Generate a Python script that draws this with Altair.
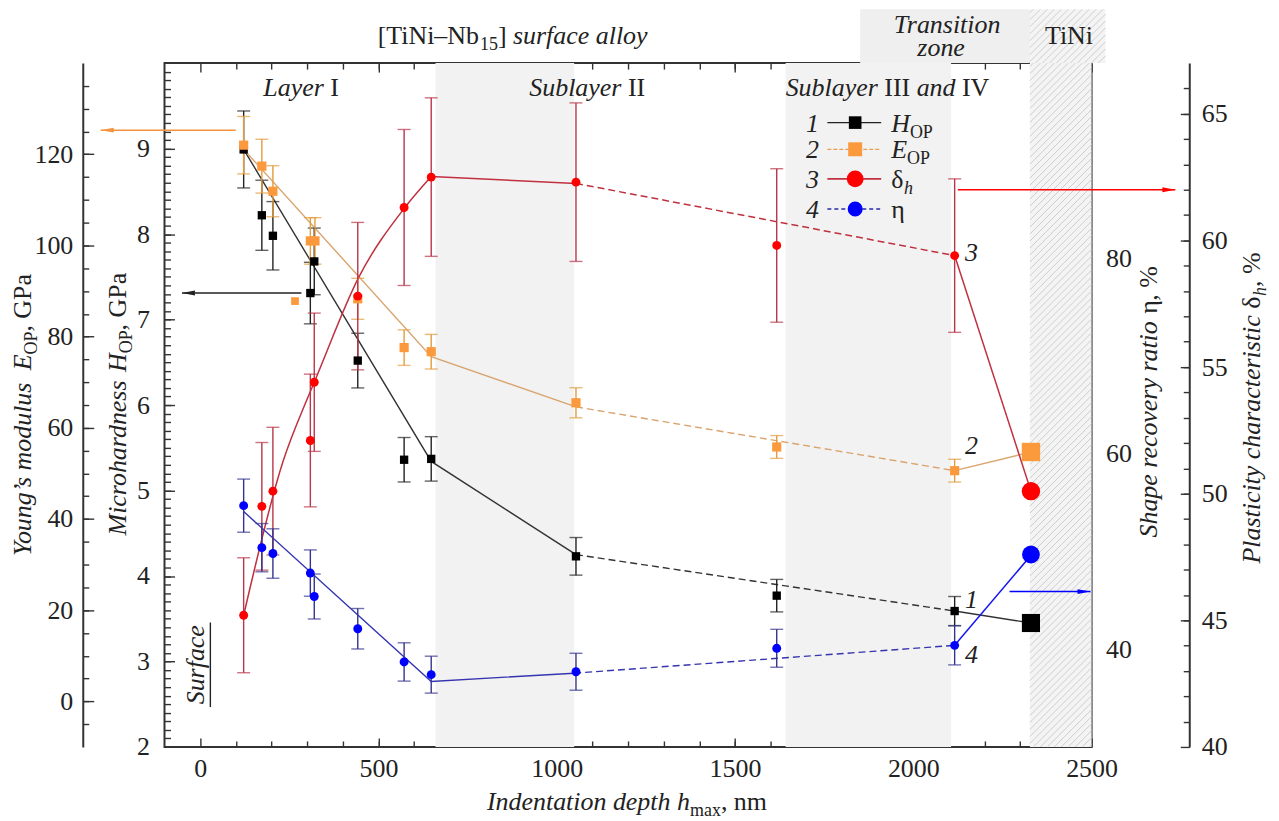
import altair as alt
import pandas as pd

# ---------------- measured values ----------------
DEPTH = [122, 173, 204, 309, 320, 442, 572, 648, 1054, 1617, 2116]
E_DEPTH = [122, 173, 204, 309, 322, 442, 572, 648, 1054, 1617, 2116]
H_OP = [8.99, 8.22, 7.98, 7.31, 7.68, 6.52, 5.36, 5.37, 4.23, 3.77, 3.59]
H_ERR = [0.45, 0.41, 0.40, 0.36, 0.39, 0.32, 0.26, 0.26, 0.22, 0.19, 0.17]
E_OP = [122.0, 117.4, 111.9, 101.0, 101.0, 88.3, 77.6, 76.7, 65.5, 55.8, 50.6]
E_ERR = [6.3, 5.9, 5.6, 5.1, 5.1, 4.5, 3.9, 3.8, 3.3, 2.5, 2.5]
E_EXTRA_X = [266]
E_EXTRA = [87.8]
DELTA_H = [45.2, 49.5, 50.1, 52.1, 54.4, 57.8, 61.3, 62.5, 62.3, 59.8, 59.4]
DELTA_ERR = [2.27, 2.52, 2.52, 2.62, 2.73, 2.91, 3.08, 3.13, 3.13, 3.03, 3.03]
ETA = [54.7, 50.4, 49.8, 47.8, 45.4, 42.1, 38.7, 37.4, 37.7, 40.1, 40.4]
ETA_ERR = [2.72, 2.47, 2.53, 2.37, 2.30, 2.07, 1.96, 1.89, 1.89, 1.94, 2.0]
TINI_X = [2330]
TINI_H = [3.45]
TINI_E = [54.7]
TINI_DELTA = [50.1]
TINI_ETA = [49.7]

# drawn trend curves (solid / dashed pieces)
H_FIT_X, H_FIT_Y = [122, 648, 1054], [8.99, 5.34, 4.25]
H_DASH_X, H_DASH_Y = [1054, 2116], [4.25, 3.59]
H_END_X, H_END_Y = [2116, 2330], [3.59, 3.45]
E_FIT_X, E_FIT_Y = [122, 648, 1054], [121.1, 75.6, 64.6]
E_DASH_X, E_DASH_Y = [1054, 2116], [64.6, 50.6]
E_END_X, E_END_Y = [2116, 2330], [50.6, 54.7]
D_FIT_X, D_FIT_Y = [122, 233, 299, 320, 445, 572, 648], [45.2, 51.3, 53.7, 54.4, 58.55, 61.26, 62.52]
D_SOLID_X, D_SOLID_Y = [648, 1054], [62.52, 62.25]
D_DASH_X, D_DASH_Y = [1054, 2116], [62.25, 59.4]
D_END_X, D_END_Y = [2116, 2330], [59.4, 50.1]
ETA_FIT_X, ETA_FIT_Y = [122, 648, 1049], [54.1, 36.7, 37.55]
ETA_DASH_X, ETA_DASH_Y = [1049, 2116], [37.55, 40.4]
ETA_END_X, ETA_END_Y = [2116, 2332], [40.4, 49.7]

# zones (indentation depth, nm)
GRAY_BANDS_X0 = [660, 1642]
GRAY_BANDS_X1 = [1049, 2106]
TINI_X0, TINI_HEAD_X1 = 2327, 2539
TRANSITION_X0 = 1851
HEAD_TOP_E = 151.8

X_TICKS = [0, 500, 1000, 1500, 2000, 2500]
E_TICKS = [0, 20, 40, 60, 80, 100, 120]
H_TICKS = [2, 3, 4, 5, 6, 7, 8, 9]
ETA_TICKS = [40, 60, 80]
D_TICKS = [40, 45, 50, 55, 60, 65]

# ---------------- geometry ----------------
W, HGT = 930, 686
X_DOM = [-100, 2500]
E_DOM = [-10, 140]
H_DOM = [2, 10]
ETA_DOM = [30, 100]
D_DOM = [40, 67]
PXN = W / (X_DOM[1] - X_DOM[0])
PXE = HGT / (E_DOM[1] - E_DOM[0])
FONT = 'Liberation Serif'
TXT = '#222222'


def xs(axis=None, field='x'):
    return alt.X(f'{field}:Q', scale=alt.Scale(domain=X_DOM, nice=False, zero=False), axis=axis)


def ys(dom, axis=None, field='y'):
    return alt.Y(f'{field}:Q', scale=alt.Scale(domain=dom, nice=False, zero=False), axis=axis)


layers = []

# ---- background zones ----
bands = pd.DataFrame({'x': GRAY_BANDS_X0, 'x2': GRAY_BANDS_X1, 'y': [E_DOM[0]] * 2, 'y2': [E_DOM[1]] * 2})
layers.append(alt.Chart(bands).mark_rect(color='#f2f2f2').encode(x=xs(), x2='x2:Q', y=ys(E_DOM), y2='y2:Q'))
head = pd.DataFrame({'x': [TRANSITION_X0], 'x2': [TINI_X0], 'y': [E_DOM[1]], 'y2': [HEAD_TOP_E]})
layers.append(alt.Chart(head).mark_rect(color='#efefef').encode(x=xs(), x2='x2:Q', y=ys(E_DOM), y2='y2:Q'))
tini = pd.DataFrame({'x': [TINI_X0, TINI_X0], 'x2': [X_DOM[1], TINI_HEAD_X1],
                     'y': [E_DOM[0], E_DOM[1]], 'y2': [E_DOM[1], HEAD_TOP_E]})
layers.append(alt.Chart(tini).mark_rect(color='#f4f4f4').encode(x=xs(), x2='x2:Q', y=ys(E_DOM), y2='y2:Q'))


def stripes(nx0, nx1, e0, e1, step=7.0):
    px0, px1 = (nx0 - X_DOM[0]) * PXN, (nx1 - X_DOM[0]) * PXN
    py0, py1 = (E_DOM[1] - e1) * PXE, (E_DOM[1] - e0) * PXE
    rows = []
    c = px0 + py0 + step / 2
    while c < px1 + py1:
        xa, xb = max(px0, c - py1), min(px1, c - py0)
        if xb > xa:
            rows.append(dict(x=X_DOM[0] + xa / PXN, y=E_DOM[1] - (c - xa) / PXE,
                             x2=X_DOM[0] + xb / PXN, y2=E_DOM[1] - (c - xb) / PXE))
        c += step
    return rows


hatch = pd.DataFrame(stripes(TINI_X0, X_DOM[1], E_DOM[0], E_DOM[1]) +
                     stripes(TINI_X0, TINI_HEAD_X1, E_DOM[1], HEAD_TOP_E))
layers.append(alt.Chart(hatch).mark_rule(color='#cdcdcd', strokeWidth=1).encode(
    x=xs(), x2='x2:Q', y=ys(E_DOM), y2='y2:Q'))


# ---- trend lines ----
def line(xv, yv, dom, color, width, dash=None, interp='linear'):
    kw = dict(color=color, strokeWidth=width, interpolate=interp)
    if dash:
        kw['strokeDash'] = dash
    return alt.Chart(pd.DataFrame({'x': xv, 'y': yv})).mark_line(**kw).encode(x=xs(), y=ys(dom))


H_LC, E_LC, D_LC, ETA_LC = '#333333', '#d9a46e', '#c0303f', '#3535b0'
layers += [
    line(H_FIT_X, H_FIT_Y, H_DOM, H_LC, 1.4), line(H_DASH_X, H_DASH_Y, H_DOM, H_LC, 1.4, [7, 4]),
    line(H_END_X, H_END_Y, H_DOM, H_LC, 1.4),
    line(E_FIT_X, E_FIT_Y, E_DOM, E_LC, 1.4), line(E_DASH_X, E_DASH_Y, E_DOM, E_LC, 1.4, [7, 4]),
    line(E_END_X, E_END_Y, E_DOM, E_LC, 1.4),
    line(D_FIT_X, D_FIT_Y, D_DOM, D_LC, 1.5, interp='monotone'), line(D_SOLID_X, D_SOLID_Y, D_DOM, D_LC, 1.5),
    line(D_DASH_X, D_DASH_Y, D_DOM, D_LC, 1.5, [7, 4]), line(D_END_X, D_END_Y, D_DOM, D_LC, 1.5),
    line(ETA_FIT_X, ETA_FIT_Y, ETA_DOM, ETA_LC, 1.4), line(ETA_DASH_X, ETA_DASH_Y, ETA_DOM, ETA_LC, 1.4, [7, 4]),
    line(ETA_END_X, ETA_END_Y, ETA_DOM, '#1515f0', 1.5),
]


# ---- error bars ----
def errbars(xv, yv, ev, dom, color):
    d = pd.DataFrame({'x': xv, 'lo': [a - b for a, b in zip(yv, ev)], 'hi': [a + b for a, b in zip(yv, ev)]})
    out = [alt.Chart(d).mark_rule(color=color, strokeWidth=1.4).encode(x=xs(), y=ys(dom, field='lo'), y2='hi:Q')]
    for f in ('lo', 'hi'):
        out.append(alt.Chart(d).mark_tick(color=color, orient='horizontal', size=13, thickness=1.4)
                   .encode(x=xs(), y=ys(dom, field=f)))
    return out


layers += errbars(DEPTH, H_OP, H_ERR, H_DOM, '#222222')
layers += errbars(E_DEPTH, E_OP, E_ERR, E_DOM, '#e39c3e')
layers += errbars(DEPTH, DELTA_H, DELTA_ERR, D_DOM, '#b8364a')
layers += errbars(DEPTH, ETA, ETA_ERR, ETA_DOM, '#343490')


# ---- markers ----
def pts(xv, yv, dom, shape, color, size):
    return alt.Chart(pd.DataFrame({'x': xv, 'y': yv})).mark_point(
        shape=shape, filled=True, color=color, size=size, opacity=1, strokeWidth=0).encode(x=xs(), y=ys(dom))


E_MC, D_MC, ETA_MC = '#fb9a3c', '#ff0000', '#0000ff'
layers += [
    pts(DEPTH, H_OP, H_DOM, 'square', '#000000', 70),
    pts(E_DEPTH, E_OP, E_DOM, 'square', E_MC, 85),
    pts(E_EXTRA_X, E_EXTRA, E_DOM, 'square', E_MC, 60),
    pts(DEPTH, DELTA_H, D_DOM, 'circle', D_MC, 80),
    pts(DEPTH, ETA, ETA_DOM, 'circle', ETA_MC, 80),
    pts(TINI_X, TINI_H, H_DOM, 'square', '#000000', 330),
    pts(TINI_X, TINI_E, E_DOM, 'square', E_MC, 340),
    pts(TINI_X, TINI_DELTA, D_DOM, 'circle', D_MC, 340),
    pts(TINI_X, TINI_ETA, ETA_DOM, 'circle', ETA_MC, 320),
]


# ---- axis-pointing arrows ----
def arrow(x0, x1, y, dom, color, right):
    d = pd.DataFrame({'x': [x0], 'x2': [x1], 'y': [y]})
    shape = 'M1,0L-1,-0.38L-1,0.38Z' if right else 'M-1,0L1,-0.38L1,0.38Z'
    return [
        alt.Chart(d).mark_rule(color=color, strokeWidth=1.5).encode(x=xs(), x2='x2:Q', y=ys(dom)),
        alt.Chart(pd.DataFrame({'x': [x1], 'y': [y]})).mark_point(
            shape=shape, filled=True, color=color, size=170, opacity=1, strokeWidth=0,
            xOffset=-6.5 if right else 6.5).encode(x=xs(), y=ys(dom)),
    ]


layers += arrow(100, -279, 125.3, E_DOM, '#f5923e', False)
layers += arrow(284, -51, 7.31, H_DOM, '#222222', False)
layers += arrow(2125, 2735, 62.0, D_DOM, '#ff0000', True)
layers += arrow(2270, 2497, 45.9, ETA_DOM, '#0000ff', True)

# ---- legend (drawn) ----
LEG_Y = [126.95, 121.1, 114.6, 108.0]
LEG_X0, LEG_X1, LEG_XM = 1759, 1910, 1837
leg_styles = [('#222222', 1.4, None, 'square', '#000000', 160),
              ('#e8a050', 1.2, [4, 2], 'square', E_MC, 196),
              (D_LC, 1.6, None, 'circle', D_MC, 283),
              ('#2a2aa8', 1.4, [4, 3], 'circle', ETA_MC, 227)]
for yv, (lc, lw, dash, shp, mc, ms) in zip(LEG_Y, leg_styles):
    kw = dict(color=lc, strokeWidth=lw)
    if dash:
        kw['strokeDash'] = dash
    layers.append(alt.Chart(pd.DataFrame({'x': [LEG_X0], 'x2': [LEG_X1], 'y': [yv]})).mark_rule(**kw)
                  .encode(x=xs(), x2='x2:Q', y=ys(E_DOM)))
    layers.append(pts([LEG_XM], [yv], E_DOM, shp, mc, ms))

# ---- text (rich pieces) ----
REG_W = {' ': 250, ',': 250, '.': 250, '[': 333, ']': 333, '–': 500, '%': 833, '’': 333, 'δ': 490, 'η': 500}
ITA_W = {' ': 250, ',': 250, '’': 333}
for ch in '0123456789':
    REG_W[ch] = 500
    ITA_W[ch] = 500
REG_W.update(zip('ABCDEFGHIJKLMNOPQRSTUVWXYZ', [722, 667, 667, 722, 611, 556, 722, 722, 333, 389, 722, 611, 889,
                                                722, 722, 556, 722, 667, 556, 611, 722, 722, 944, 722, 722, 611]))
REG_W.update(zip('abcdefghijklmnopqrstuvwxyz', [444, 500, 444, 500, 444, 333, 500, 500, 278, 278, 500, 278, 778,
                                                500, 500, 500, 500, 333, 389, 278, 500, 500, 722, 500, 500, 444]))
ITA_W.update(zip('ABCDEFGHIJKLMNOPQRSTUVWXYZ', [611, 611, 667, 722, 611, 611, 722, 722, 333, 444, 667, 556, 833,
                                                667, 722, 611, 722, 611, 500, 556, 722, 611, 833, 611, 556, 556]))
ITA_W.update(zip('abcdefghijklmnopqrstuvwxyz', [500, 500, 444, 500, 444, 278, 500, 500, 278, 278, 444, 278, 722,
                                                500, 500, 500, 500, 389, 389, 278, 500, 444, 667, 444, 444, 389]))
BIG, SMALL, SUB_SHIFT = 26, 18, 6


def text_w(s, kind):
    table = ITA_W if kind.startswith('i') else REG_W
    size = SMALL if kind.endswith('s') else BIG
    return sum(table.get(c, 500) for c in s) * size / 1000


ROWS = []


def rich(pieces, ax, ay, rot=False, center=False):
    widths = [text_w(t, k) for t, k in pieces]
    off = -sum(widths) / 2 if center else 0.0
    for (t, k), w in zip(pieces, widths):
        sub = SUB_SHIFT if k.endswith('s') else 0
        body = t.strip()
        lead = text_w(t[:len(t) - len(t.lstrip())], k)
        o = off + lead
        if body:
            if rot:
                ROWS.append(dict(t=body, k=k, r=1, x=ax + sub / PXN, y=ay + o / PXE))
            else:
                ROWS.append(dict(t=body, k=k, r=0, x=ax + o / PXN, y=ay - sub / PXE))
        off += w


# zone labels
rich([('Layer', 'i'), (' I', 'n')], 177, 132.8)
rich([('Sublayer', 'i'), (' II', 'n')], 923, 132.8)
rich([('Sublayer', 'i'), (' III ', 'n'), ('and', 'i'), (' IV', 'n')], 1642, 132.8)
rich([('[TiNi–Nb', 'n'), ('15', 'ns'), (']', 'n'), (' surface alloy', 'i')], 498, 144.2)
rich([('Transition', 'i')], 2097, 146.6, center=True)
rich([('zone', 'i')], 2078, 141.6, center=True)
rich([('TiNi', 'n')], 2438, 144.2, center=True)
# legend texts
LEG_NUM_X, LEG_TXT_X = 1717, 1938
for i, yv in enumerate(LEG_Y):
    rich([(str(i + 1), 'i')], LEG_NUM_X, yv - 9 / PXE, center=True)
rich([('H', 'i'), ('OP', 'ns')], LEG_TXT_X, LEG_Y[0] - 9 / PXE)
rich([('E', 'i'), ('OP', 'ns')], LEG_TXT_X, LEG_Y[1] - 9 / PXE)
rich([('δ', 'n'), ('h', 'is')], LEG_TXT_X, LEG_Y[2] - 9 / PXE)
rich([('η', 'n')], LEG_TXT_X, LEG_Y[3] - 9 / PXE)
# curve numbers
CURVE_NUM_X = 2163
for lab, yv in zip(['1', '2', '3', '4'], [20.4, 54.3, 96.55, 8.37]):
    rich([(lab, 'i')], CURVE_NUM_X, yv, center=True)
rich([('Surface', 'i')], 11.8, 8.04, rot=True, center=True)
# axis titles
rich([('Indentation depth ', 'i'), ('h', 'i'), ('max', 'ns'), (', nm', 'n')], 1197, -23.8, center=True)
rich([('Young’s modulus ', 'i'), ('E', 'i'), ('OP', 'ns'), (', GPa', 'n')], -474.6, 62.8, rot=True, center=True)
rich([('Microhardness ', 'i'), ('H', 'i'), ('OP', 'ns'), (', GPa', 'n')], -209, 65.2, rot=True, center=True)
rich([('Shape recovery ratio ', 'i'), ('η', 'n'), (', %', 'n')], 2684.5, 65.7, rot=True, center=True)
rich([('Plasticity characteristic ', 'i'), ('δ', 'n'), ('h', 'is'), (', %', 'n')], 2972.5, 64.35, rot=True,
     center=True)

tdf = pd.DataFrame(ROWS)
for (k, r), g in tdf.groupby(['k', 'r']):
    layers.append(alt.Chart(g).mark_text(
        font=FONT, fontSize=SMALL if k.endswith('s') else BIG,
        fontStyle='italic' if k.startswith('i') else 'normal',
        align='left', baseline='alphabetic', angle=270 if r else 0, color=TXT
    ).encode(x=xs(), y=ys(E_DOM), text='t:N'))

# underline of "Surface"
layers.append(alt.Chart(pd.DataFrame({'x': [28.6], 'y': [-1.25], 'y2': [17.3]})).mark_rule(
    color=TXT, strokeWidth=1.4).encode(x=xs(), y=ys(E_DOM), y2='y2:Q'))


# ---- axes (carried by invisible points) ----
def carrier(dom, xaxis=None, yaxis=None):
    d = pd.DataFrame({'x': [X_DOM[0]], 'y': [dom[0]]})
    return alt.Chart(d).mark_point(opacity=0).encode(x=xs(xaxis), y=ys(dom, yaxis))


def tick_axis(orient, offset, values, size):
    return alt.Axis(orient=orient, offset=offset, values=values, tickSize=size, labels=False,
                    domain=False, title=None, grid=False)


minor_x = [v for v in range(100, 2500, 100)]
layers += [
    carrier(E_DOM, xaxis=alt.Axis(orient='bottom', values=X_TICKS, ticks=False, domain=False, labelPadding=9,
                                  labelFlush=False, labelOverlap=False, format='d', title=None)),
    carrier(E_DOM, xaxis=tick_axis('top', -HGT, minor_x, 6)),
    carrier(E_DOM, xaxis=tick_axis('top', -HGT, X_TICKS, 9)),
    carrier(E_DOM, xaxis=tick_axis('bottom', -HGT, minor_x, 6)),
    carrier(E_DOM, xaxis=tick_axis('bottom', -HGT, X_TICKS, 9)),
    # Young's modulus
    carrier(E_DOM, yaxis=alt.Axis(orient='left', offset=82, values=E_TICKS, ticks=False, domain=True,
                                  labelPadding=10, labelOverlap=False, title=None)),
    carrier(E_DOM, yaxis=tick_axis('right', -(W + 82), list(range(-5, 140, 5)), 6)),
    carrier(E_DOM, yaxis=tick_axis('right', -(W + 82), E_TICKS, 11)),
    # microhardness
    carrier(H_DOM, yaxis=alt.Axis(orient='left', offset=0, values=H_TICKS, ticks=False, domain=False,
                                  labelPadding=15, labelOverlap=False, title=None)),
    carrier(H_DOM, yaxis=tick_axis('right', -W, [round(2 + 0.1 * i, 1) for i in range(1, 80)], 6)),
    carrier(H_DOM, yaxis=tick_axis('right', -W, H_TICKS[1:], 10)),
    # shape recovery ratio
    carrier(ETA_DOM, yaxis=alt.Axis(orient='right', offset=0, values=ETA_TICKS, ticks=False, domain=False,
                                    labelPadding=14, labelOverlap=False, title=None)),
    carrier(ETA_DOM, yaxis=tick_axis('left', -W, list(range(32, 100, 2)), 6)),
    # plasticity characteristic
    carrier(D_DOM, yaxis=alt.Axis(orient='right', offset=98, values=D_TICKS, ticks=False, domain=True,
                                  labelPadding=12, labelOverlap=False, title=None)),
    carrier(D_DOM, yaxis=tick_axis('left', -(W + 98), list(range(41, 67)), 6)),
    carrier(D_DOM, yaxis=tick_axis('left', -(W + 98), D_TICKS, 9)),
]

chart = alt.layer(*layers).resolve_scale(y='independent').resolve_axis(x='independent', y='independent').properties(
    width=W, height=HGT, padding={'left': 2, 'top': -1, 'right': 0, 'bottom': 0}
).configure_view(stroke='#333333', strokeWidth=2).configure_axis(
    grid=False, labelFont=FONT, labelFontSize=26, labelColor=TXT, tickColor='#333333',
    domainColor='#333333', domainWidth=2, tickWidth=1.4)

chart.save("out.html", embed_options={"renderer": "svg", "actions": False})
